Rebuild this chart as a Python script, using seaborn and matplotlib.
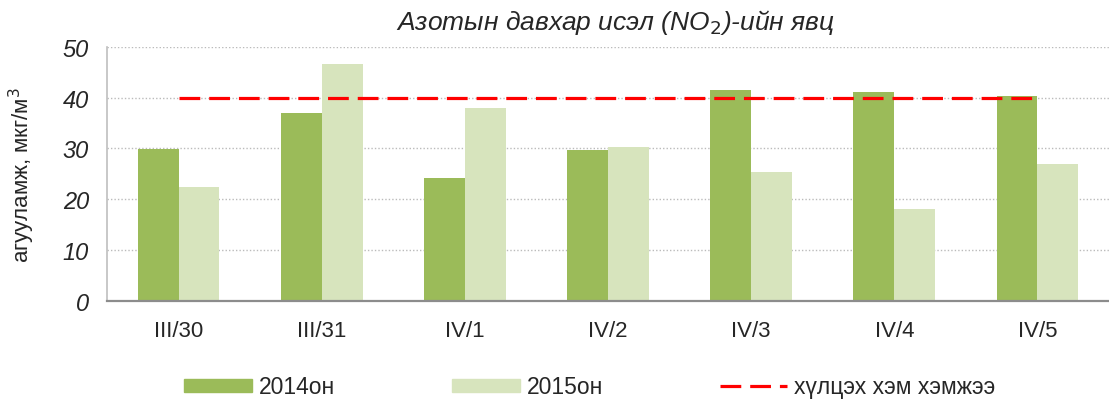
import numpy as np
import pandas as pd
import matplotlib.pyplot as plt
import seaborn as sns
from matplotlib.patches import Patch
from matplotlib.lines import Line2D

dates = ['III/30', 'III/31', 'IV/1', 'IV/2', 'IV/3', 'IV/4', 'IV/5']
no2_2014 = [29.8, 37.0, 24.2, 29.7, 41.6, 41.1, 40.3]
no2_2015 = [22.4, 46.7, 37.9, 30.2, 25.3, 18.0, 26.9]
limit = 40
series = ['2014он', '2015он']

df = pd.DataFrame({
    'date': dates * 2,
    'value': no2_2014 + no2_2015,
    'year': [series[0]] * len(dates) + [series[1]] * len(dates),
})

sns.set_style('white')
plt.rcParams['font.family'] = ['Liberation Sans', 'DejaVu Sans']

colors = ['#9BBB59', '#D7E4BD']

fig = plt.figure(figsize=(11.09, 4.02), dpi=100)
ax = fig.add_axes([0.0965, 0.249, 0.9035, 0.632])

sns.barplot(data=df, x='date', y='value', hue='year', palette=colors,
            width=0.57, saturation=1, linewidth=0, ax=ax, legend=False)

# limit line from first to last category
ax.plot([0, len(dates) - 1], [limit, limit], color='#FF0000', lw=2.3,
        dashes=(6.5, 2.8), zorder=5)

ax.set_xlim(-0.5, len(dates) - 0.5)
ax.set_ylim(0, 50)
ax.set_yticks(range(0, 51, 10))
ax.yaxis.grid(True, linestyle=(0, (1, 1.5)), color='#BBBBBB', lw=1)
ax.set_axisbelow(True)
for s in ['top', 'right']:
    ax.spines[s].set_visible(False)
ax.spines['left'].set_color('#BFBFBF')
ax.spines['left'].set_linewidth(1.2)
ax.spines['bottom'].set_color('#8C8C8C')
ax.spines['bottom'].set_linewidth(1.6)
ax.tick_params(axis='y', length=7, width=1.2, color='#BFBFBF', labelsize=17, pad=6)
ax.tick_params(axis='x', length=0, labelsize=16, pad=14)
for t in ax.get_yticklabels():
    t.set_fontstyle('italic')
ax.set_xlabel('')
ax.set_ylabel('агууламж, мкг/м$^3$', fontsize=16)
ax.yaxis.set_label_coords(-0.070, 0.5)

fig.text(0.555, 0.943, 'Азотын давхар исэл (NO$_2$)-ийн явц', ha='center',
         va='center', fontsize=19, style='italic')

handles = [Patch(color=colors[0]), Patch(color=colors[1]),
           Line2D([], [], color='#FF0000', lw=2.3, dashes=(6.5, 2.8))]
labels = [series[0], series[1], 'хүлцэх хэм хэмжээ']
fig.legend(handles, labels, loc='center', bbox_to_anchor=(0.532, 0.035), ncol=3,
           frameon=False, fontsize=16.5, handlelength=2.95, handleheight=0.5,
           columnspacing=5.1, handletextpad=0.3)

fig.savefig('out.png', dpi=100)
